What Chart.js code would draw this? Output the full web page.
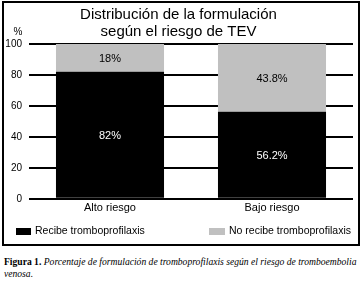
<!DOCTYPE html>
<html>
<head>
<meta charset="utf-8">
<script src="https://cdn.jsdelivr.net/npm/chart.js@4/dist/chart.umd.min.js"></script>
<style>
	body { margin: 0; background: #fff; width: 364px; height: 294px; position: relative; overflow: hidden; }
	#box { position: absolute; left: 2px; top: 1px; width: 354px; height: 241px; border: 2px solid #000; }
	#chart { display: block; }
	#caption { position: absolute; left: 4px; top: 256px; font-family: "Liberation Serif", "DejaVu Serif", serif; font-size: 9.6px; line-height: 12px; white-space: nowrap; color: #000; }
	#caption i { font-style: italic; }
</style>
</head>
<body>
<div id="box"><canvas id="chart" width="354" height="241"></canvas></div>
<div id="caption"><b>Figura 1.</b> <i>Porcentaje de formulación de tromboprofilaxis según el riesgo de tromboembolia<br>venosa.</i></div>
<script>
var categories = ['Alto riesgo', 'Bajo riesgo'];
var recibe = [82, 56.2];
var noRecibe = [18, 43.8];
var seriesNames = ['Recibe tromboprofilaxis', 'No recibe tromboprofilaxis'];
var yTicks = [0, 20, 40, 60, 80, 100];

var FONT = '"Liberation Sans", Arial, sans-serif';

// white / black labels centred in each stacked segment
var segmentLabels = {
	id: 'segmentLabels',
	afterDatasetsDraw: function (chart) {
		var ctx = chart.ctx;
		ctx.save();
		ctx.font = '11px ' + FONT;
		ctx.textAlign = 'center';
		ctx.textBaseline = 'middle';
		chart.data.datasets.forEach(function (ds, di) {
			var meta = chart.getDatasetMeta(di);
			meta.data.forEach(function (bar, i) {
				var p = bar.getProps(['x', 'y', 'base'], true);
				ctx.fillStyle = ds.labelColor;
				ctx.fillText(ds.data[i] + '%', p.x, (p.y + p.base) / 2 + 1);
			});
		});
		ctx.restore();
	}
};

// "%" over the y axis
var unitLabel = {
	id: 'unitLabel',
	afterDraw: function (chart) {
		var ctx = chart.ctx, y = chart.scales.y;
		ctx.save();
		ctx.font = '10px ' + FONT;
		ctx.fillStyle = '#000';
		ctx.textAlign = 'center';
		ctx.textBaseline = 'middle';
		ctx.fillText('%', y.right - 11, chart.chartArea.top - 12);
		ctx.restore();
	}
};

// legend spread to both sides, like the original
var spreadLegend = {
	id: 'spreadLegend',
	afterDraw: function (chart, args, opts) {
		var ctx = chart.ctx;
		ctx.save();
		ctx.font = '10.5px ' + FONT;
		ctx.textBaseline = 'middle';
		ctx.textAlign = 'left';
		chart.data.datasets.forEach(function (ds, i) {
			var x = opts.xs[i];
			ctx.fillStyle = ds.backgroundColor;
			ctx.fillRect(x, opts.y - 3, opts.boxW[i], 7);
			ctx.fillStyle = '#000';
			ctx.fillText(ds.label, x + opts.boxW[i] + 4, opts.y);
		});
		ctx.restore();
	}
};

var ctx = document.getElementById('chart').getContext('2d');
new Chart(ctx, {
	type: 'bar',
	data: {
		labels: categories,
		datasets: [{
			label: seriesNames[0],
			data: recibe,
			backgroundColor: '#000000',
			labelColor: '#ffffff'
		}, {
			label: seriesNames[1],
			data: noRecibe,
			backgroundColor: '#c0c0c0',
			labelColor: '#000000'
		}]
	},
	options: {
		responsive: false,
		animation: false,
		devicePixelRatio: 1,
		categoryPercentage: 1,
		barPercentage: 0.667,
		layout: { padding: { left: 0, right: 5, top: 0, bottom: 26 } },
		plugins: {
			legend: { display: false },
			tooltip: { enabled: false },
			title: {
				display: true,
				text: ['Distribución de la formulación', 'según el riesgo de TEV'],
				color: '#000',
				font: { family: FONT, size: 15, weight: 'normal', lineHeight: 1.13 },
				padding: { top: 3.5, bottom: 3.5 }
			},
			spreadLegend: { xs: [12, 205], boxW: [15, 16], y: 228 }
		},
		scales: {
			x: {
				stacked: true,
				grid: { display: false, drawTicks: false },
				border: { display: false },
				ticks: { color: '#000', font: { family: FONT, size: 11 }, padding: 3 }
			},
			y: {
				stacked: true,
				min: 0,
				max: 100,
				afterFit: function (scale) { scale.width = 25; },
				afterBuildTicks: function (scale) {
					scale.ticks = yTicks.map(function (v) { return { value: v }; });
				},
				grid: { color: '#000', lineWidth: 2, drawTicks: false },
				border: { display: false },
				ticks: { color: '#000', font: { family: FONT, size: 10 }, padding: 7 }
			}
		}
	},
	plugins: [segmentLabels, unitLabel, spreadLegend]
});
</script>
</body>
</html>
